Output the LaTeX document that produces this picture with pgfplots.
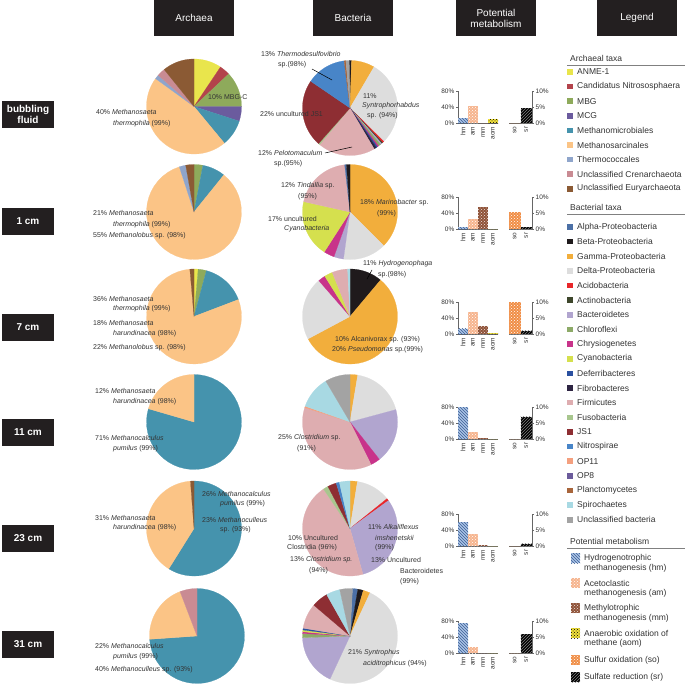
\documentclass[border=0pt]{standalone}
\usepackage{pgfplots}
\pgfplotsset{compat=1.18}
\usepackage{fontspec}
\setmainfont{Liberation Sans}
\usetikzlibrary{patterns}

% archaeal colours
\definecolor{anme}{HTML}{E9E54C}
\definecolor{cand}{HTML}{B3434B}
\definecolor{mbg}{HTML}{8EAA5B}
\definecolor{mcg}{HTML}{6B5B9E}
\definecolor{mmic}{HTML}{4593AD}
\definecolor{msar}{HTML}{FBC486}
\definecolor{thermo}{HTML}{8FA5CB}
\definecolor{ucren}{HTML}{C98B93}
\definecolor{ueury}{HTML}{8B5A34}
% bacterial colours
\definecolor{balpha}{HTML}{4C70A6}
\definecolor{bbeta}{HTML}{1F1A1C}
\definecolor{bgamma}{HTML}{F2AE3C}
\definecolor{bdelta}{HTML}{DDDDDD}
\definecolor{bacido}{HTML}{E8262A}
\definecolor{bactino}{HTML}{3D462B}
\definecolor{bbact}{HTML}{B1A5CF}
\definecolor{bchloro}{HTML}{8DAA68}
\definecolor{bchrys}{HTML}{C8338A}
\definecolor{bcyano}{HTML}{D5E04E}
\definecolor{bdefer}{HTML}{2A50A0}
\definecolor{bfibro}{HTML}{2D2442}
\definecolor{bfirm}{HTML}{DEADB0}
\definecolor{bfuso}{HTML}{A8C68E}
\definecolor{bjs}{HTML}{8E2E33}
\definecolor{bnitro}{HTML}{4885C8}
\definecolor{bop11}{HTML}{F4A07F}
\definecolor{bop8}{HTML}{6B5B9B}
\definecolor{bplanc}{HTML}{A8653B}
\definecolor{bspiro}{HTML}{A8D9E3}
\definecolor{buncl}{HTML}{A3A3A3}
% metabolism
\definecolor{hmfill}{HTML}{A9C3E6}
\definecolor{hmline}{HTML}{3C5E94}
\definecolor{amfill}{HTML}{F6B48E}
\definecolor{mmfill}{HTML}{8F5238}
\definecolor{aomfill}{HTML}{F0E03C}
\definecolor{sofill}{HTML}{F08E46}
\definecolor{hdr}{HTML}{231F20}
\definecolor{txt}{HTML}{333333}

\newcommand\pf{\fontsize{7}{8}\selectfont}
\newcommand\lf{\fontsize{8.5}{10}\selectfont}
\newcommand\tf{\fontsize{6.5}{7}\selectfont}

% pie: #1 cx, #2 cy (from top), #3 start angle (clockwise from 12 o'clock), #4 colour/percent list
\newcommand\pie[4]{%
\begin{axis}[at={(#1pt,-#2pt)}, anchor=center, width=95pt, height=95pt, scale only axis,
  xmin=-1, xmax=1, ymin=-1, ymax=1, hide axis, clip=false]
  \xdef\cum{#3}%
  \foreach \col/\val in {#4}{%
    \pgfmathsetmacro\nxt{\cum+3.6*\val}%
    \edef\temp{\noexpand\addplot[fill=\col, draw=\col, line width=0.2pt, domain=\cum:\nxt, samples=40] ({sin(x)},{cos(x)}) -- (axis cs:0,0) -- cycle;}%
    \temp
    \xdef\cum{\nxt}%
  }
\end{axis}}

% metabolism: #1 baseline y, #2 hm #3 am #4 mm #5 aom (left axis, %), #6 so #7 sr (right axis, %)
\pgfplotsset{metab/.style={scale only axis, height=32pt, axis line style={gray!80!black, line width=0.5pt},
  tick label style={font=\tf, text=txt}, tick align=outside, major tick length=2pt,
  xtick style={draw=none}, ytick style={gray!80!black}, xticklabel style={rotate=90, anchor=east, inner sep=1.5pt},
  yticklabel style={inner sep=1.5pt}, clip=false}}
\newcommand\metab[7]{%
\begin{axis}[metab, at={(458pt,-#1pt)}, anchor=south west, width=40pt,
  xmin=-0.5, xmax=3.5, ymin=0, ymax=80, axis x line*=bottom, axis y line*=left,
  ytick={0,40,80}, yticklabels={0\%,40\%,80\%}, xtick={0,1,2,3}, xticklabels={hm,am,mm,aom}]
  \addplot[ybar, bar shift=0pt, bar width=10pt, fill=hmfill, draw=none, postaction={pattern=north west lines, pattern color=hmline}] coordinates {(0,#2)};
  \addplot[ybar, bar shift=0pt, bar width=10pt, fill=amfill, draw=none, postaction={pattern=crosshatch dots, pattern color=white}] coordinates {(1,#3)};
  \addplot[ybar, bar shift=0pt, bar width=10pt, fill=mmfill, draw=none, postaction={pattern=crosshatch dots, pattern color=white!85!mmfill}] coordinates {(2,#4)};
  \addplot[ybar, bar shift=0pt, bar width=10pt, fill=aomfill, draw=none, postaction={pattern=crosshatch dots, pattern color=black}] coordinates {(3,#5)};
\end{axis}
\begin{axis}[metab, at={(532pt,-#1pt)}, anchor=south east, width=23pt,
  xmin=-0.5, xmax=1.5, ymin=0, ymax=10, axis x line*=bottom, axis y line*=right,
  ytick={0,5,10}, yticklabels={0\%,5\%,10\%}, xtick={0,1}, xticklabels={so,sr}]
  \addplot[ybar, bar shift=0pt, bar width=11.5pt, fill=sofill, draw=none, postaction={pattern=crosshatch dots, pattern color=white}] coordinates {(0,#6)};
  \addplot[ybar, bar shift=0pt, bar width=11.5pt, fill=black, draw=none, postaction={pattern=north east lines, pattern color=gray}] coordinates {(1,#7)};
\end{axis}}

\newcommand\lab[3]{\node[anchor=west, inner sep=0pt, font=\pf, text=txt] at (#1pt,-#2pt) {#3};}
\newcommand\lgd[3]{\node[anchor=west, inner sep=0pt, font=\lf, text=txt] at (#1pt,-#2pt) {#3};}
\newcommand\rowbox[2]{\node[fill=hdr, text=white, font=\fontsize{10}{11}\selectfont\bfseries, minimum width=52pt, minimum height=27pt, inner sep=0pt, align=center] at (28pt,-#1pt) {#2};}
\newcommand\hdrbox[2]{\node[fill=hdr, text=white, font=\fontsize{10}{11}\selectfont, minimum width=80pt, minimum height=36pt, inner sep=0pt, align=center] at (#1pt,-18pt) {#2};}

\begin{document}
\begin{tikzpicture}
\useasboundingbox (0pt,0pt) rectangle (685pt,-685pt);
\fill[white] (0pt,0pt) rectangle (685pt,-685pt);

% headers
\hdrbox{194}{Archaea}
\hdrbox{353}{Bacteria}
\hdrbox{496}{Potential\\metabolism}
\hdrbox{637}{Legend}

% row labels
\rowbox{114.5}{bubbling\\fluid}
\rowbox{221}{1 cm}
\rowbox{327}{7 cm}
\rowbox{432}{11 cm}
\rowbox{538}{23 cm}
\rowbox{644}{31 cm}

% archaeal pies
\pie{194}{106.5}{0}{anme/9.4, cand/3.6, mbg/12, mcg/5, mmic/9, msar/46, thermo/1.4, ucren/2.8, ueury/10.8}
\pie{194}{212}{0}{mbg/3, mmic/7.8, msar/84.2, thermo/2.2, ueury/2.8}
\pie{194}{316.5}{0}{anme/1.4, mbg/2.8, mmic/15, msar/79.4, ueury/1.4}
\pie{194}{422}{0}{mmic/79.5, msar/20.5}
\pie{194}{528.5}{0}{mmic/58.9, msar/39.9, ueury/1.2}
\pie{197}{636}{0}{mmic/73.9, msar/20.3, ucren/5.8}

% bacterial pies
\pie{350}{108}{-1}{bbeta/0.8, bgamma/7.9, bdelta/29, bacido/0.6, bactino/0.4, bbact/0.5, bchloro/0.8, bchrys/0.5, bdefer/0.5, bfibro/0.8, bfirm/19.5, bfuso/0.5, bjs/23, bnitro/13.5, bplanc/0.6, buncl/1.1}
\pie{350}{212}{0}{bgamma/37.5, bdelta/14.7, bbact/3.3, bchrys/3.6, bcyano/19.4, bfirm/19.7, balpha/0.6, bbeta/1.2}
\pie{350}{316.5}{0}{bbeta/11.1, bgamma/56.1, bdelta/21.4, bchrys/2.5, bcyano/2.8, bfirm/5.3, bspiro/0.8}
\pie{350}{422}{0}{bgamma/2.6, bdelta/18.2, bbact/18.6, bchrys/3.3, bfirm/37.2, bop11/0.5, bspiro/11.1, buncl/8.5}
\pie{350}{528.5}{0}{bgamma/2.5, bdelta/11.7, bacido/0.8, bbact/30.6, bfirm/45, bfuso/1.7, bjs/3, bnitro/1.1, bspiro/3.6}
\pie{350}{636}{3}{balpha/1.8, bbeta/1.9, bgamma/2.4, bdelta/50, bbact/17.5, bchloro/1.4, bchrys/0.6, bcyano/0.6, bdefer/0.6, bfirm/8.6, bjs/5.6, bspiro/4.7, buncl/4.3}

% metabolism
\metab{123}{12}{43}{0}{9}{0}{4.6}
\metab{229}{4}{25}{54}{0}{5.3}{0.6}
\metab{334}{13}{56}{20}{1.5}{10}{1}
\metab{439}{80}{17}{1.5}{0}{0}{6.9}
\metab{546}{59}{31}{1.5}{0}{0}{0.7}
\metab{653}{74}{14}{0}{0}{0}{5.8}

% archaeal labels
\lab{96}{112}{40\% \textit{Methanosaeta}}
\lab{113}{124}{\textit{thermophila} (99\%)}
\lab{208}{97}{10\% MBG-C}
\lab{93}{213}{21\% \textit{Methanosaeta}}
\lab{113}{225}{\textit{thermophila} (99\%)}
\lab{93}{236}{55\% \textit{Methanolobus} sp. (98\%)}
\lab{93}{299}{36\% \textit{Methanosaeta}}
\lab{113}{309}{\textit{thermophila} (99\%)}
\lab{93}{323}{18\% \textit{Methanosaeta}}
\lab{113}{334}{\textit{harundinacea} (98\%)}
\lab{93}{348}{22\% \textit{Methanolobus} sp. (98\%)}
\lab{95}{391}{12\% \textit{Methanosaeta}}
\lab{113}{402}{\textit{harundinacea} (98\%)}
\lab{95}{438}{71\% \textit{Methanocalculus}}
\lab{113}{449}{\textit{pumilus} (99\%)}
\lab{95}{518}{31\% \textit{Methanosaeta}}
\lab{113}{528}{\textit{harundinacea} (98\%)}
\lab{202}{494}{26\% \textit{Methanocalculus}}
\lab{220}{504}{\textit{pumilus} (99\%)}
\lab{202}{520}{23\% \textit{Methanoculleus}}
\lab{220}{530}{sp. (93\%)}
\lab{95}{646}{22\% \textit{Methanocalculus}}
\lab{113}{657}{\textit{pumilus} (99\%)}
\lab{95}{670}{40\% \textit{Methanoculleus} sp. (93\%)}

% bacterial labels
\lab{261}{54}{13\% \textit{Thermodesulfovibrio}}
\lab{278}{65}{sp.(98\%)}
\draw[black, line width=0.5pt] (312pt,-69pt) -- (332pt,-80pt);
\lab{260}{114}{22\% uncultured JS1}
\lab{363}{96}{11\%}
\lab{362}{106}{\textit{Syntrophorhabdus}}
\lab{367}{116}{sp. (94\%)}
\lab{258}{153}{12\% \textit{Pelotomaculum}}
\lab{274}{164}{sp.(95\%)}
\draw[black, line width=0.5pt] (325pt,-153pt) -- (352pt,-147pt);
\lab{281}{186}{12\% \textit{Tindallia} sp.}
\lab{298}{197}{(95\%)}
\lab{268}{219}{17\% uncultured}
\lab{284}{229}{\textit{Cyanobacteria}}
\lab{360}{203}{18\% \textit{Marinobacter} sp.}
\lab{377}{214}{(99\%)}
\lab{363}{264}{11\% \textit{Hydrogenophaga}}
\lab{378}{275}{sp.(98\%)}
\draw[black, line width=0.5pt] (372pt,-270pt) -- (367pt,-279pt);
\lab{335}{340}{10\% Alcanivorax sp. (93\%)}
\lab{332}{350}{20\% \textit{Pseudomonas} sp.(99\%)}
\lab{278}{438}{25\% \textit{Clostridium} sp.}
\lab{297}{449}{(91\%)}
\lab{368}{527}{11\% \textit{Alkaliflexus}}
\lab{375}{538}{\textit{imshenetskii}}
\lab{375}{548}{(99\%)}
\lab{288}{538}{10\% Uncultured}
\lab{287}{548}{Clostridia (96\%)}
\lab{290}{560}{13\% \textit{Clostridium sp.}}
\lab{309}{571}{(94\%)}
\lab{371}{560}{13\% Uncultured}
\lab{400}{571}{Bacteroidetes}
\lab{400}{582}{(99\%)}
\lab{348}{653}{21\% \textit{Syntrophus}}
\lab{363}{664}{\textit{aciditrophicus} (94\%)}

% legend: archaeal
\lgd{570}{58}{Archaeal taxa}
\draw[gray, line width=0.6pt] (567pt,-65pt) -- (685pt,-65pt);
\foreach \col/\t [count=\i from 0] in {anme/ANME-1, cand/Candidatus Nitrososphaera, mbg/MBG, mcg/MCG, mmic/Methanomicrobiales, msar/Methanosarcinales, thermo/Thermococcales, ucren/Unclassified Crenarchaeota, ueury/Unclassified Euryarchaeota}{
  \pgfmathsetmacro\yy{-72-14.6*\i}
  \fill[\col] (567pt,\yy pt-2.75pt) rectangle ++(5.5pt,5.5pt);
  \node[anchor=west, inner sep=0pt, font=\lf, text=txt] at (577pt,\yy pt) {\t};
}
% legend: bacterial
\lgd{570}{207}{Bacterial taxa}
\draw[gray, line width=0.6pt] (567pt,-214pt) -- (685pt,-214pt);
\foreach \col/\t [count=\i from 0] in {balpha/Alpha-Proteobacteria, bbeta/Beta-Proteobacteria, bgamma/Gamma-Proteobacteria, bdelta/Delta-Proteobacteria, bacido/Acidobacteria, bactino/Actinobacteria, bbact/Bacteroidetes, bchloro/Chloroflexi, bchrys/Chrysiogenetes, bcyano/Cyanobacteria, bdefer/Deferribacteres, bfibro/Fibrobacteres, bfirm/Firmicutes, bfuso/Fusobacteria, bjs/JS1, bnitro/Nitrospirae, bop11/OP11, bop8/OP8, bplanc/Planctomycetes, bspiro/Spirochaetes, buncl/Unclassified bacteria}{
  \pgfmathsetmacro\yy{-227-14.64*\i}
  \fill[\col] (567pt,\yy pt-2.75pt) rectangle ++(5.5pt,5.5pt);
  \node[anchor=west, inner sep=0pt, font=\lf, text=txt] at (577pt,\yy pt) {\t};
}
% legend: metabolism
\lgd{570}{541}{Potential metabolism}
\draw[gray, line width=0.6pt] (567pt,-548pt) -- (685pt,-548pt);
\fill[hmfill, postaction={pattern=north west lines, pattern color=hmline}] (571pt,-553pt) rectangle (580pt,-563pt);
\lgd{584}{558}{Hydrogenotrophic}
\lgd{584}{568}{methanogenesis (hm)}
\fill[amfill, postaction={pattern=crosshatch dots, pattern color=white}] (571pt,-578pt) rectangle (580pt,-588pt);
\lgd{584}{583}{Acetoclastic}
\lgd{584}{593}{methanogenesis (am)}
\fill[mmfill, postaction={pattern=crosshatch dots, pattern color=white!85!mmfill}] (571pt,-603pt) rectangle (580pt,-613pt);
\lgd{584}{608}{Methylotrophic}
\lgd{584}{618}{methanogenesis (mm)}
\fill[aomfill, postaction={pattern=crosshatch dots, pattern color=black}] (571pt,-628pt) rectangle (580pt,-638pt);
\lgd{584}{633}{Anaerobic oxidation of}
\lgd{584}{643}{methane (aom)}
\fill[sofill, postaction={pattern=crosshatch dots, pattern color=white}] (571pt,-655pt) rectangle (580pt,-665pt);
\lgd{584}{660}{Sulfur oxidation (so)}
\fill[black, postaction={pattern=north east lines, pattern color=gray}] (571pt,-672pt) rectangle (580pt,-682pt);
\lgd{584}{677}{Sulfate reduction (sr)}
\end{tikzpicture}
\end{document}
